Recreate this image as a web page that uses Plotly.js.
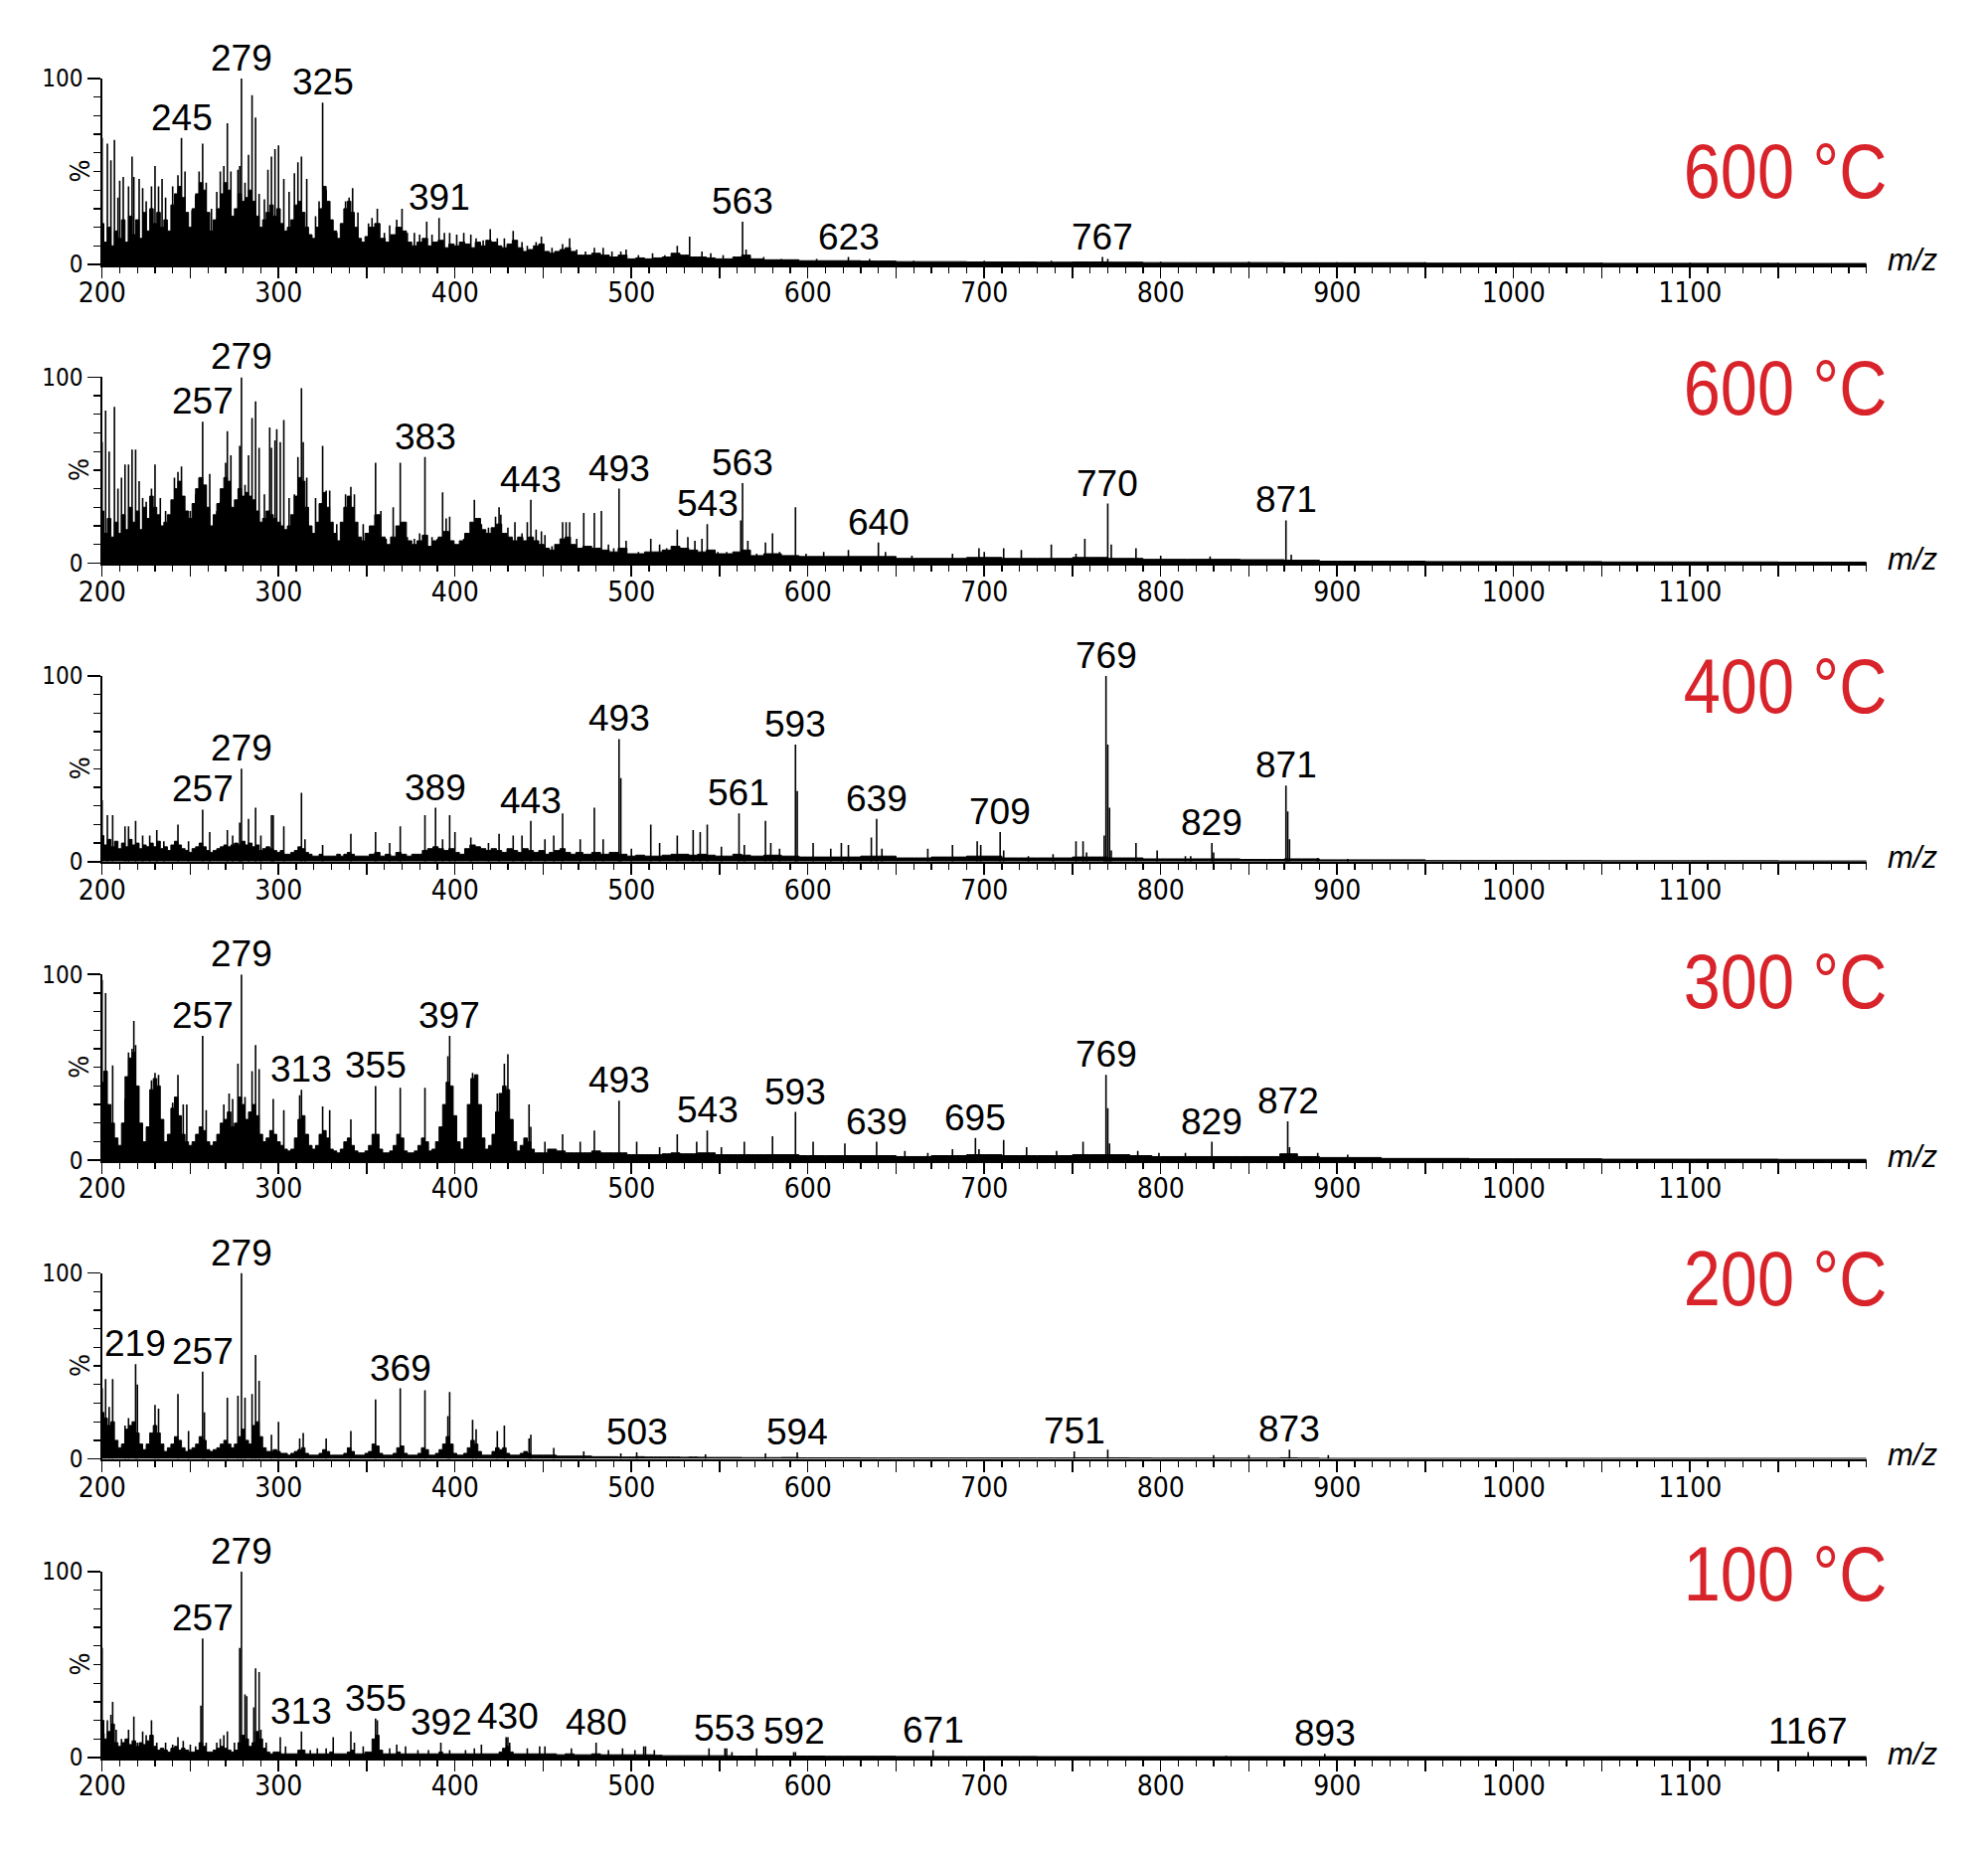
<!DOCTYPE html>
<html><head><meta charset="utf-8">
<script src="https://cdn.plot.ly/plotly-3.0.1.min.js"></script>
<style>html,body{margin:0;padding:0;background:#fff}</style>
</head><body><div id="chart" style="width:2000px;height:1861px"></div>
<script>
// ---------- shared sampling grids for the dense background signal ----------
const gridA = [200,202,204,206,208,210,212,214,216,218,220,222,224,226,228,230,232,234,236,238,240,242,244,246,248,250,252,254,256,258,260,262,264,266,268,270,272,274,276,278,280,282,284,286,288,290,292,294,296,298,300,302,304,306,308,310,312,314,316,318,320,322,324,326,328,330,332,334,336,338,340,342,344,346,348,350,
353,356,359,362,365,368,371,374,377,380,383,386,389,392,395,398,401,404,407,410,413,416,419,422,425,428,431,434,437,440,443,446,449,452,455,458,461,464,467,470,
475,480,485,490,495,500,505,510,515,520,525,530,535,540,545,550,555,560,565,570,
580,590,600,620,640,660,680,700,720,740,760,780,800,830,860,880,900,1000,1100,1200];
const gridB = [200,202,204,206,208,210,212,214,216,218,220,222,224,226,228,230,232,234,236,238,240,242,244,246,248,250,252,254,256,258,260,262,264,266,268,270,272,274,276,278,280,282,284,286,288,290,292,294,296,298,300,302,304,306,308,310,312,314,316,318,320,322,324,326,328,330,332,334,336,338,340,342,344,346,348,350,
352,354,356,358,360,362,364,366,368,370,372,374,376,378,380,382,384,386,388,390,392,394,396,398,400,402,404,406,408,410,412,414,416,418,420,422,424,426,428,430,432,434,436,438,440,442,444,446,
450,455,460,465,470,475,480,485,490,495,500,505,510,515,520,525,530,535,540,545,550,555,560,565,570,
580,590,600,620,640,660,680,700,720,740,760,775,790,800,830,860,875,880,900,950,1000,1100,1200];

// ---------- panel 1 : 600 °C (top) ----------
const p1_pk_mz = [200,203,205,207,209,210,212,215,217,218,221,223,225,228,230,232,234,236,240,243,245,247,251,253,255,257,259,262,265,267,269,271,273,277,278,279,281,283,285,287,289,292,294,296,298,300,303,306,309,311,313,316,321,323,325,327,329,333,338,340,342,345,351,353,356,360,363,367,370,373,377,380,384,387,391,394,397,401,405,409,412,416,420,424,428,433,438,441,446,449,455,461,465,469,474,479,484,489,494,497,504,512,519,526,531,533,540,545,552,563,565,575,585,605,623,635,660,700,738,767,770,800,850,900,950,1000,1050,1100,1150];
const p1_pk_int = [68,65,56,67,36,45,47,42,58,47,46,41,34,42,53,42,46,36,42,48,68,50,29,37,50,65,44,30,39,50,53,76,50,51,53,100,44,59,91,79,38,35,51,58,62,64,46,39,49,55,58,46,26,34,87,40,34,17,34,36,41,28,22,25,30,17,21,24,30,17,17,16,23,16,25,17,17,16,17,16,14,13,19,14,14,18,12,10,12,15,9,11,14,8,7,9,9,7,7,8,5,6,5,10,5,15,7,6,5,23,8,4,3,3,4,3,2,2,2,4,3,1.5,1.5,1.2,1.2,1,1,1,1];
const p1_env = [22,12,20,10,18,14,24,12,26,16,24,14,28,18,30,22,28,20,24,18,32,38,42,36,28,20,30,38,44,40,28,18,24,30,38,44,40,26,30,38,34,36,40,34,26,20,24,28,32,26,30,22,18,20,24,32,34,28,20,16,14,20,30,42,34,24,18,14,22,30,34,28,20,14,12,15,
20,22,14,12,16,20,18,12,10,12,14,10,12,13,9,11,10,12,11,9,12,10,13,12,10,9,11,13,9,7,8,10,11,7,6,7,8,9,7,5,
5,6,5,4,5,3,3.5,3,3.5,4,6,5,4,4,3.5,3,3,4,5,3,
2.5,2.5,2,2,1.8,1.5,1.5,1.3,1.3,1.2,1.3,1.2,1,1,1,0.9,0.9,0.7,0.6,0.5];
const p1_labels = [245,279,325,391,563,623,767];

// ---------- panel 2 : 600 °C ----------
const p2_pk_mz = [200,202,204,207,209,211,213,215,217,219,221,223,225,228,230,233,236,241,243,245,250,253,255,257,259,261,265,267,270,271,273,276,278,279,281,283,285,287,289,292,295,296,298,299,301,303,306,309,311,313,314,316,321,325,327,329,333,338,341,343,348,352,355,358,361,365,369,373,377,380,383,387,390,393,395,397,401,405,411,415,419,423,425,426,430,434,438,441,443,446,449,451,455,461,463,465,469,473,479,483,487,490,493,497,504,511,516,520,526,532,536,540,543,549,554,562,563,566,571,576,580,584,593,599,609,623,640,644,659,682,697,700,711,721,738,752,757,770,772,786,800,828,871,874];
const p2_pk_int = [65,82,60,84,40,46,53,53,61,61,44,35,33,40,53,35,28,46,49,52,28,37,46,76,42,48,28,33,54,71,58,28,63,100,42,58,78,87,62,37,73,62,66,72,65,77,35,37,57,94,65,46,35,63,39,39,21,37,41,37,21,20,54,28,13,30,54,14,13,16,57,14,13,38,24,25,9,13,34,21,19,25,30,26,19,22,16,22,34,18,17,15,9,22,22,22,13,27,27,28,10,8,40,12,6,13,10,8,18,14,12,13,21,6,6,23,43,12,5,11,16,6,30,5,6,7,11,6,4,5,8,6,8,7,10,5,13,32,10,8,4,3.5,23,4.5];
const p2_env = [28,16,24,14,22,16,26,18,30,22,28,18,30,24,36,30,26,20,22,26,34,40,44,36,28,24,32,40,46,42,30,20,26,32,40,46,44,30,34,40,36,38,36,34,28,22,24,28,26,24,22,20,18,20,26,36,46,44,30,20,16,22,32,38,30,22,16,12,22,30,36,30,22,14,12,16,
20,26,14,10,14,20,22,12,10,12,15,9,12,14,17,12,10,12,16,22,24,18,16,19,21,16,14,12,14,12,14,12,10,8,7,10,13,14,10,8,
9,8,7,6,8,5,5,6,6,7,9,8,7,6,7,5,5,6,7,4,
5,4,3.5,3.5,3.5,2.5,2.5,3,2.5,2.5,3,2.5,2,2,1.8,1.5,1,0.8,0.6,0.5];
const p2_labels = [257,279,383,443,493,543,563,640,770,871];

// ---------- panel 3 : 400 °C ----------
const p3_pk_mz = [200,203,206,213,215,219,223,227,231,235,243,249,257,261,271,274,278,279,283,287,290,296,297,303,313,315,325,341,355,363,369,383,389,393,397,400,409,419,425,433,438,443,451,456,461,471,479,484,493,494,500,511,516,526,535,539,543,551,561,564,576,579,584,593,594,603,613,619,623,636,639,642,668,682,696,698,709,711,725,739,752,756,758,768,769,770,771,772,786,798,814,817,829,830,871,872,873,889,906];
const p3_pk_int = [33,25,25,19,19,22,14,14,17,11,20,11,28,16,17,14,21,50,23,29,14,25,25,19,37,12,9,15,16,10,19,25,29,12,25,16,13,10,15,14,14,22,12,14,26,12,29,12,66,45,7,20,10,14,17,16,20,8,26,9,22,10,7,63,38,10,7,10,9,13,23,7,7,9,11,9,16,6,3,4,11,11,5,14,100,63,29,6,10,6,3,3,10,5,41,27,12,2,1.5];
const p3_env = [14,9,12,8,11,7,10,8,12,9,10,7,9,8,10,8,11,7,8,6,9,11,9,7,6,5,7,8,10,8,6,5,6,7,8,9,8,9,10,9,11,9,10,8,9,6,7,8,7,6,5,6,4,4,5,6,8,7,5,4,3,3,4,3,3,3,3,4,3,4,5,4,3,3,3,3,
4,5,3,4,3,5,4,3,4,4,6,7,8,7,6,7,5,4,7,9,8,7,6,7,6,5,7,6,5,7,6,5,6,4,5,6,7,5,4,5,
4,5,4,5,4,3,3.5,3,3,3.5,4,4,3.5,4,3.5,3,3,4,3.5,3,
3.5,3,2.5,2.5,3,2,2.5,3,2,2,2.5,2,1.5,1.5,1.2,1.5,1,0.6,0.5,0.4];
const p3_labels = [257,279,389,443,493,561,593,639,709,769,829,871];

// ---------- panel 4 : 300 °C ----------
const p4_pk_mz = [200,202,206,213,215,217,218,219,228,230,232,240,243,246,248,257,259,269,272,274,277,279,281,285,287,289,297,303,312,313,325,329,341,355,369,383,396,397,410,412,424,428,430,442,443,451,461,471,479,493,503,516,526,537,543,551,564,580,593,603,621,639,655,668,682,695,697,711,724,741,756,769,770,771,787,799,814,829,872,873,889,906];
const p4_pk_int = [97,90,51,33,58,60,75,62,43,47,46,31,46,30,30,67,27,30,36,33,52,100,34,48,62,49,33,27,35,38,29,27,22,40,39,39,56,67,47,45,36,52,57,30,18,10,14,10,16,32,10,7,14,10,16,7,10,13,26,10,9,10,5,4,6,12,6,11,7,5,10,46,28,9,5,4,4,10,21,7,4,3];
const p4_env = [42,48,30,20,12,8,20,45,55,58,40,20,10,18,38,44,40,22,10,14,28,34,24,14,10,8,10,14,18,16,10,8,10,14,20,22,26,18,20,34,30,22,26,30,24,14,10,12,16,14,10,8,6,5,6,12,22,24,14,8,6,8,14,16,12,6,5,4,6,10,12,8,5,4,4,5,
8,14,14,6,4,4,5,8,14,12,5,4,4,5,8,12,10,5,6,10,18,30,42,40,24,10,6,12,30,44,46,30,12,6,8,14,26,36,40,38,22,10,5,8,12,10,6,4,
4,6,5,4,4,4,5,4,4,4,3,3,3,3,3.5,4,3.5,3.5,4,4,3,3,3,3,3,
3,3,2.5,2.5,2.5,2,2.5,3,2.5,2.5,3,3,2.5,2,2,2,3.5,2,1.5,1,0.8,0.6,0.5];
const p4_labels = [257,279,313,355,397,493,543,593,639,695,769,829,872];

// ---------- panel 5 : 200 °C ----------
const p5_pk_mz = [200,202,204,206,213,215,219,220,230,232,243,249,257,258,271,277,279,281,285,287,289,296,300,312,314,327,341,355,369,383,396,397,410,412,424,428,442,443,456,473,494,503,542,576,594,751,770,830,850,873,895];
const p5_pk_int = [38,43,28,43,18,22,51,40,29,27,35,15,47,25,33,34,100,33,35,56,42,13,20,11,14,11,15,32,38,37,23,36,21,16,15,18,11,13,6,4,3,3.5,2.5,3,3.5,4,5,2,2,5,2];
const p5_env = [25,22,18,20,10,6,8,16,18,20,14,8,5,8,14,18,14,8,4,6,8,12,10,6,4,5,6,8,12,10,5,4,5,6,8,10,8,6,8,12,16,10,8,18,20,12,6,4,4,5,4,3,3,2,3,4,5,6,3,2,2,2,3,5,4,2,2,2,2,3,6,4,2,2,2,3,
4,8,7,3,2,2,2,3,6,7,3,2,2,2,3,6,5,2,2,3,5,8,12,8,3,2,2,3,6,10,8,4,2,2,2,4,6,5,6,3,2,2,2,3,4,3,2,2,
2,2,1.5,1.5,1.5,1.5,1.2,1.2,1.2,1,1,1.2,1,1,1,1,0.9,1,0.9,0.8,0.8,0.8,0.8,0.7,0.7,
0.7,0.8,0.6,0.6,0.5,0.5,0.5,0.5,0.5,0.5,0.6,0.6,0.5,0.4,0.4,0.4,0.6,0.4,0.3,0.3,0.3,0.3,0.3];
const p5_labels = [219,257,279,369,503,594,751,873];

// ---------- panel 6 : 100 °C ----------
const p6_pk_mz = [200,201,203,205,206,208,211,215,218,220,223,225,228,231,236,240,243,246,250,253,256,257,259,265,267,269,271,275,278,279,281,282,286,287,289,290,293,301,304,313,318,322,327,331,341,343,348,355,356,363,367,372,379,385,392,397,406,411,415,429,430,431,441,448,451,466,480,487,495,502,507,508,513,544,553,554,557,571,592,593,671,837,893,1167];
const p6_pk_int = [59,13,20,23,30,15,10,15,22,8,14,12,20,8,8,7,11,9,7,6,28,64,8,8,10,12,14,8,59,100,34,33,27,48,46,15,8,11,6,14,4,5,5,11,14,8,6,21,20,5,7,6,4,4,8,4,4,5,7,11,11,8,5,6,6,5,8,4,5,4,6,6,4,5,5,5,3,5,3,3,4,1,2,3];
const p6_env = [20,10,14,18,8,6,8,10,7,9,6,8,7,9,12,6,4,5,4,3,5,6,4,5,4,3,3,4,8,6,3,3,4,5,6,5,4,3,4,8,12,10,6,8,14,10,5,3,2,3,3,2,2,2,2,2,4,4,2,2,2,2,2,2,2,3,2,2,2,2,3,4,2,2,2,3,
3,10,12,4,2,2,2,2,3,2,2,2,2,2,2,2,2,2,2,2,3,2,2,2,2,2,2,2,2,2,2,2,2,2,2,2,2,3,5,6,3,2,2,2,2,2,2,2,
2,2,1.5,2,1.5,1.5,2,1.5,1.5,1.5,1.5,1.5,1.5,1.2,1,1,1,1,1,1,1,1,0.8,0.8,0.8,
0.8,0.8,0.8,0.7,0.7,0.6,0.6,0.6,0.6,0.5,0.5,0.5,0.5,0.5,0.5,0.5,0.5,0.5,0.5,0.5,0.5,0.5,0.5];
const p6_labels = [257,279,313,355,392,430,480,553,592,671,893,1167];

// ---------- text ----------
const temperatures = ['600 °C','600 °C','400 °C','300 °C','200 °C','100 °C'];
const xTickVals = [200,250,300,350,400,450,500,550,600,650,700,750,800,850,900,950,1000,1050,1100,1150];
const xTickText = ['200','','300','','400','','500','','600','','700','','800','','900','','1000','','1100',''];
const yTickVals = [0,100];
const yTickText = ['0','100'];

// ---------- layout geometry (pixels) ----------
const W = 2000, H = 1861;
const baseline = [266, 566.4, 866.8, 1167.2, 1467.6, 1768];
const span = 187;
const tempY = [50, 94.5, 94.5, 96.6, 96.9, 99];

const panels = [
  {pk:p1_pk_mz, pi:p1_pk_int, ex:gridA, ey:p1_env, lab:p1_labels},
  {pk:p2_pk_mz, pi:p2_pk_int, ex:gridA, ey:p2_env, lab:p2_labels},
  {pk:p3_pk_mz, pi:p3_pk_int, ex:gridA, ey:p3_env, lab:p3_labels},
  {pk:p4_pk_mz, pi:p4_pk_int, ex:gridB, ey:p4_env, lab:p4_labels},
  {pk:p5_pk_mz, pi:p5_pk_int, ex:gridB, ey:p5_env, lab:p5_labels},
  {pk:p6_pk_mz, pi:p6_pk_int, ex:gridB, ey:p6_env, lab:p6_labels}
];

const narrow = 'Liberation Sans Narrow, Arial Narrow, DejaVu Sans Condensed, sans-serif';
const sans = 'Liberation Sans, Arial, Helvetica, sans-serif';
const red = '#d8232a';

const traces = [];
const annotations = [];
const layout = {
  width: W, height: H,
  margin: {l:0, r:0, t:0, b:0},
  paper_bgcolor: '#fff', plot_bgcolor: 'rgba(0,0,0,0)',
  showlegend: false,
  annotations: annotations
};

panels.forEach((p, i) => {
  const n = i + 1;
  const xa = n === 1 ? 'x' : 'x' + n;
  const ya = n === 1 ? 'y' : 'y' + n;
  const xk = n === 1 ? 'xaxis' : 'xaxis' + n;
  const yk = n === 1 ? 'yaxis' : 'yaxis' + n;

  traces.push({
    type: 'scatter', mode: 'lines', x: p.ex, y: p.ey,
    fill: 'tozeroy', fillcolor: '#000',
    line: {color: '#000', width: 1, shape: 'hvh'},
    xaxis: xa, yaxis: ya, hoverinfo: 'skip'
  });
  const sx = [], sy = [];
  p.pk.forEach((m, k) => { sx.push(m, m, null); sy.push(0, p.pi[k], null); });
  traces.push({
    type: 'scatter', mode: 'lines', x: sx, y: sy,
    line: {color: '#000', width: 1.6},
    xaxis: xa, yaxis: ya, hoverinfo: 'skip'
  });

  layout[xk] = {
    domain: [102.7 / W, 1877.7 / W],
    anchor: ya,
    range: [200, 1200],
    showline: true, linecolor: '#000', linewidth: 2.5,
    showgrid: false, zeroline: false,
    tickmode: 'array', tickvals: xTickVals, ticktext: xTickText,
    ticks: 'outside', ticklen: 11, tickwidth: 1.5, tickcolor: '#000',
    ticklabelstandoff: -9,
    minor: {tickmode: 'linear', tick0: 200, dtick: 10, ticks: 'outside', ticklen: 6, tickwidth: 1.3, tickcolor: '#000', showgrid: false},
    tickfont: {family: narrow, size: 28, color: '#000'},
    fixedrange: true
  };
  layout[yk] = {
    domain: [1 - baseline[i] / H, 1 - (baseline[i] - span) / H],
    anchor: xa,
    range: [0, 100],
    showline: true, linecolor: '#000', linewidth: 1.5,
    showgrid: false, zeroline: false,
    tickmode: 'array', tickvals: yTickVals, ticktext: yTickText,
    ticks: 'outside', ticklen: 13, tickwidth: 1.5, tickcolor: '#000',
    minor: {tickmode: 'linear', tick0: 0, dtick: 10, ticks: 'outside', ticklen: 7, tickwidth: 1.3, tickcolor: '#000', showgrid: false},
    tickfont: {family: narrow, size: 24, color: '#000'},
    fixedrange: true
  };

  p.lab.forEach(L => {
    const k = p.pk.indexOf(L);
    annotations.push({
      xref: xa, yref: ya, x: L, y: p.pi[k], text: String(L),
      showarrow: false, xanchor: 'center', yanchor: 'bottom', yshift: -2,
      font: {family: sans, size: 37, color: '#000'}
    });
  });

  annotations.push({
    xref: 'paper', yref: ya, x: 1900 / W, y: tempY[i], text: temperatures[i],
    showarrow: false, xanchor: 'right', yanchor: 'middle',
    font: {family: sans, size: 78, color: red}
  });
  annotations.push({
    xref: 'paper', yref: ya, x: 1897 / W, y: 0, text: '<i>m/z</i>',
    showarrow: false, xanchor: 'left', yanchor: 'middle', yshift: 4,
    font: {family: sans, size: 31, color: '#000'}
  });
  annotations.push({
    xref: 'paper', yref: ya, x: 80 / W, y: 50, text: '%',
    showarrow: false, xanchor: 'center', yanchor: 'middle', textangle: -90,
    font: {family: narrow, size: 27, color: '#000'}
  });
});

Plotly.newPlot('chart', traces, layout, {staticPlot: true, displayModeBar: false}).then(() => {
  // condense the red temperature labels horizontally, keeping their right edge fixed
  document.querySelectorAll('.annotation text').forEach(t => {
    if (t.textContent.indexOf('°C') >= 0) {
      const bb = t.getBBox();
      const rx = bb.x + bb.width;
      const prev = t.getAttribute('transform') || '';
      t.setAttribute('transform', prev + ' translate(' + rx + ',0) scale(0.855,1) translate(' + (-rx) + ',0)');
    }
  });
});
</script></body></html>
